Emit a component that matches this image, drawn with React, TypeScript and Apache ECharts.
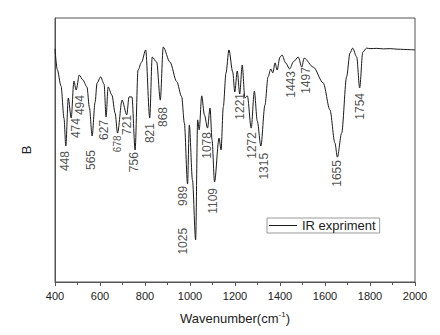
import React, { useEffect, useRef } from "react";
import * as echarts from "echarts";

// Spectrum trace: wavenumber (cm-1) and relative transmittance (arbitrary 0-100)
const wavenumbers = [
  400, 410, 427, 440, 448, 459, 472, 484, 494, 508, 524, 542, 553, 565, 578, 587, 603, 618, 627, 636,
  653, 667, 678, 698, 719, 729, 742, 756, 769, 785, 803, 821, 832, 852, 868, 881, 911, 941, 963, 975,
  989, 997, 1011, 1025, 1034, 1041, 1052, 1064, 1078, 1089, 1098, 1109, 1129, 1138, 1148, 1160, 1173,
  1190, 1199, 1210, 1221, 1232, 1244, 1255, 1272, 1286, 1299, 1315, 1333, 1347, 1359, 1368, 1378, 1387,
  1400, 1409, 1425, 1443, 1460, 1481, 1497, 1507, 1548, 1592, 1622, 1644, 1655, 1674, 1696, 1711, 1723,
  1741, 1754, 1768, 1785, 1800, 1830, 1860, 1890, 1920, 1950, 1980, 2000,
];
const transmittance = [
  88.3, 80.5, 74.2, 62, 51.5, 69.7, 62.1, 76.1, 72.7, 78.4, 76.5, 73.9, 66, 55.3, 68, 75.4, 77.7, 75, 62.5, 73.9,
  70.8, 64, 56.4, 68.9, 63.3, 70.1, 70.1, 50, 80.3, 83.3, 87.9, 62.1, 85.2, 83.3, 68.9, 89, 83.3, 75.9, 70.2, 60.2,
  37.1, 59.5, 38.6, 15.9, 61.4, 57.6, 70.5, 63.3, 58.3, 65.9, 53.8, 37.9, 54.5, 50, 66.3, 79.2, 87.9,
  79.5, 72, 79.9, 71.2, 82.2, 69.7, 70.5, 58.3, 72.3, 61, 51.5, 67, 77.7, 80.7, 79.2, 83, 80.3,
  85.2, 86, 83, 80.7, 83.5, 85.2, 81.4, 84.8, 81.4, 75.4, 65.2, 52.7, 47.3, 56.4, 77.7, 86.7, 88.6,
  85.2, 73.5, 87.1, 88.6, 88.4, 88.5, 88.3, 88.4, 88.2, 88.1, 88.0, 87.9,
];

// Peak annotations: text, anchor wavenumber (label centre), anchor value (label top end)
const peakLabels = ["448", "474", "494", "565", "627", "678", "721", "756", "821", "868", "989", "1025", "1078", "1109", "1221", "1272", "1315", "1443", "1497", "1655", "1754"];
const peakLabelW = [444, 495, 511, 562, 618, 678, 718, 751, 822, 880, 967, 969, 1075, 1100, 1222, 1275, 1329, 1449, 1515, 1653, 1755];
const peakLabelV = [49.6, 62.1, 70.8, 50, 61.4, 55.5, 63.3, 49.2, 60.2, 66.3, 36.4, 20.5, 56.8, 35.6, 71.6, 56.8, 48.9, 79.9, 81.4, 46.2, 71.6];
const smallLabels = ["678"];

const xTicks = { min: 400, max: 2000, interval: 200 };
const seriesName = "IR expriment";

const FONT = "'Liberation Sans', Arial, sans-serif";

export default function App() {
  const ref = useRef<HTMLDivElement>(null);
  useEffect(() => {
    if (!ref.current) return;
    const chart = echarts.init(ref.current, undefined, { renderer: "svg" });
    const lineData = wavenumbers.map((w, i) => [w, transmittance[i]]);
    const labelData = peakLabels.map((t, i) => ({
      value: [peakLabelW[i], peakLabelV[i]],
      name: t,
      label: smallLabels.includes(t) ? { fontSize: 10 } : undefined,
    }));
    chart.setOption({
      animation: false,
      textStyle: { fontFamily: FONT },
      grid: {
        left: 55,
        right: 25,
        top: 18,
        bottom: 53,
        show: true,
        borderColor: "#555",
        borderWidth: 1,
      },
      legend: {
        data: [{ name: seriesName, icon: "rect" }],
        left: 267,
        top: 218,
        itemWidth: 28,
        itemHeight: 1,
        padding: [1, 4, 1, 2],
        borderColor: "#999",
        borderWidth: 1,
        textStyle: { fontSize: 13, color: "#222", fontFamily: FONT },
      },
      xAxis: {
        type: "value",
        min: xTicks.min,
        max: xTicks.max,
        interval: xTicks.interval,
        name: "Wavenumber(cm{sup|-1})",
        nameLocation: "middle",
        nameGap: 28,
        nameTextStyle: {
          fontSize: 13,
          color: "#222",
          fontFamily: FONT,
          rich: { sup: { fontSize: 8, color: "#222", padding: [0, 0, 9, 0], fontFamily: FONT } },
        },
        axisLine: { show: true, lineStyle: { color: "#555", width: 1 } },
        axisTick: { show: true, inside: false, length: 4, lineStyle: { color: "#555" } },
        minorTick: { show: true, splitNumber: 2, length: 3, lineStyle: { color: "#555" } },
        splitLine: { show: false },
        axisLabel: {
          fontSize: 11,
          color: "#222",
          margin: 8,
          fontFamily: FONT,
          formatter: (v: number) => String(v),
        },
      },
      yAxis: {
        type: "value",
        min: 0,
        max: 100,
        name: "B",
        nameLocation: "middle",
        nameGap: 22,
        nameTextStyle: { fontSize: 13, color: "#222", fontFamily: FONT },
        axisLine: { show: true, lineStyle: { color: "#555", width: 1 } },
        axisTick: { show: false },
        axisLabel: { show: false },
        splitLine: { show: false },
      },
      series: [
        {
          name: seriesName,
          type: "line",
          data: lineData,
          symbol: "none",
          smooth: 0.3,
          smoothMonotone: "x",
          lineStyle: { color: "#1a1a1a", width: 1 },
          itemStyle: { color: "#1a1a1a" },
        },
        {
          name: "labels",
          type: "scatter",
          data: labelData,
          symbolSize: 0,
          silent: true,
          label: {
            show: true,
            formatter: (p: any) => p.name,
            position: "inside",
            rotate: 90,
            align: "right",
            verticalAlign: "middle",
            fontSize: 12,
            color: "#222",
            fontFamily: FONT,
          },
        },
      ],
    });
    return () => chart.dispose();
  }, []);
  return (
    <div
      ref={ref}
      style={{ position: "absolute", left: 0, top: 0, width: 440, height: 335 }}
    />
  );
}
